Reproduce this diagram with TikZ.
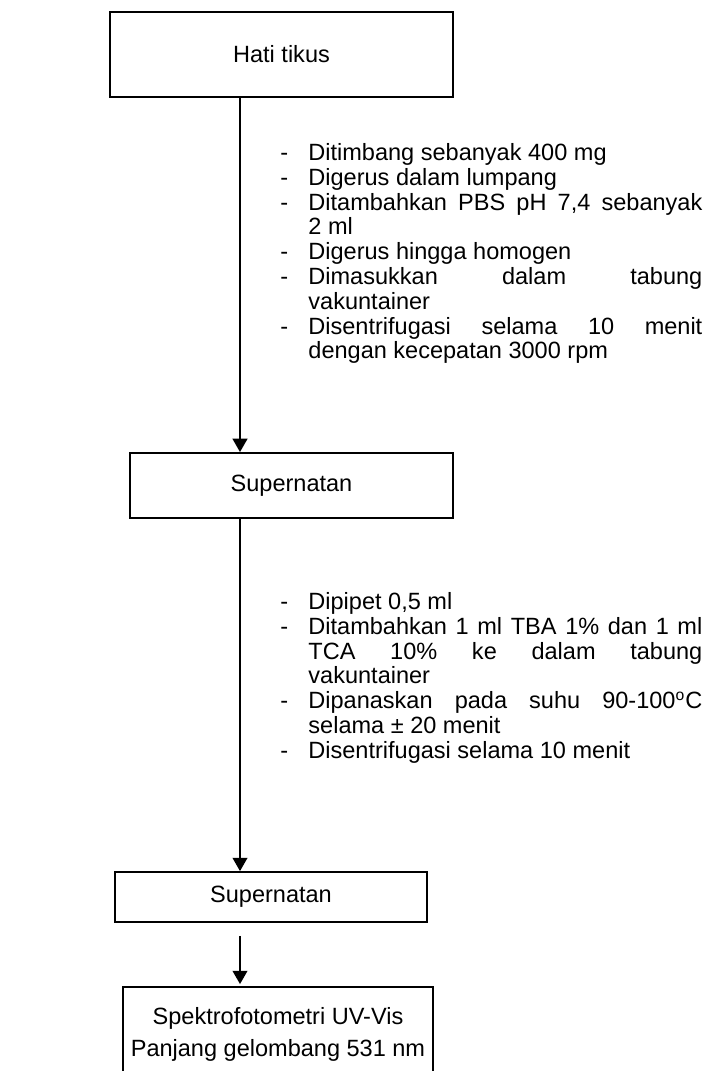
\documentclass[tikz,border=0pt]{standalone}
\usepackage{fontspec}
\setmainfont{Liberation Sans}
\usetikzlibrary{arrows.meta,positioning}

% one step of the procedure: dash, then hanging text
\newcommand\langkah[1]{\hangindent=14.3pt\hangafter=1\noindent\makebox[14.3pt][l]{-}#1\par}

\begin{document}
\begin{tikzpicture}[x=0.51pt,y=-0.51pt]
\tikzstyle{kotak}=[draw=black,line width=0.9pt,inner sep=0pt,font={\fontsize{12}{14}\selectfont}]
\tikzstyle{alur}=[-{Triangle[length=6.8pt,width=7.5pt]},line width=1pt]
\tikzstyle{keterangan}=[anchor=north west,inner sep=0pt,text width=215.2pt,align=justify,
  font={\fontsize{12}{12.65}\selectfont}]

\useasboundingbox (0,0) rectangle (709,1071);

\node[kotak, line width=1.2pt, minimum width=174.9pt, minimum height=43.4pt] (hati) at (281.5,54.5) {Hati tikus};
\node[kotak, minimum width=164.7pt, minimum height=33.2pt] (super1) at (291.5,485.5) {Supernatan};
\node[kotak, minimum width=159.1pt, minimum height=25.5pt] (super2) at (271,897) {Supernatan};
\node[kotak, minimum width=158.1pt, minimum height=48pt, align=center,
  font={\fontsize{12}{16.3}\selectfont}] (spektro) at (278,1034) {Spektrofotometri UV-Vis\\Panjang gelombang 531 nm};

\coordinate (sumbu) at (240,0);
\draw[alur] (sumbu |- hati.south) -- (sumbu |- super1.north);
\draw[alur] (sumbu |- super1.south) -- (sumbu |- super2.north);
\draw[alur, shorten <=6.6pt, shorten >=1pt] (sumbu |- super2.south) -- (sumbu |- spektro.north);

\node[keterangan] (ket1) at (280,143) {\tolerance=10000\relax\hbadness=10000\relax
\langkah{Ditimbang sebanyak 400 mg}
\langkah{Digerus dalam lumpang}
\langkah{Ditambahkan PBS pH 7,4 sebanyak\linebreak 2 ml}
\langkah{Digerus hingga homogen}
\langkah{Dimasukkan dalam tabung\linebreak vakuntainer}
\langkah{Disentrifugasi selama 10 menit\linebreak dengan kecepatan 3000 rpm}};

\node[keterangan] (ket2) at (280,592) {\tolerance=10000\relax\hbadness=10000\relax
\langkah{Dipipet 0,5 ml}
\langkah{Ditambahkan 1 ml TBA 1\% dan 1 ml\linebreak TCA 10\% ke dalam tabung\linebreak vakuntainer}
\langkah{Dipanaskan pada suhu 90-100\textsuperscript{o}C\linebreak selama ± 20 menit}
\langkah{Disentrifugasi selama 10 menit}};
\end{tikzpicture}
\end{document}
